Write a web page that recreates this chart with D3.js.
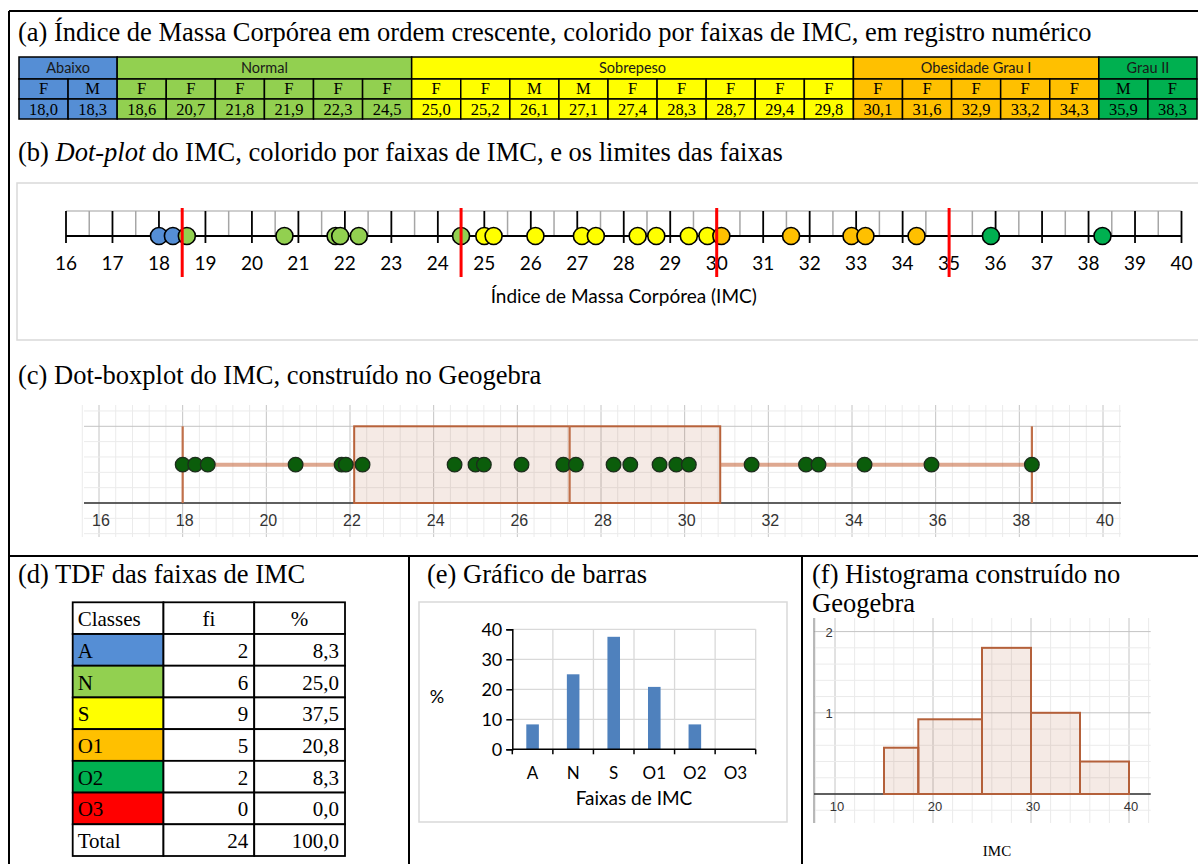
<!DOCTYPE html>
<html>
<head>
<meta charset="utf-8">
<script src="https://cdn.jsdelivr.net/npm/d3@7"></script>
<style>
  body { margin: 0; background: #fff; }
  svg { display: block; }
</style>
</head>
<body>
<div id="fig"></div>
<script>
// ---- dados ----
const IMC   = [18.0, 18.3, 18.6, 20.7, 21.8, 21.9, 22.3, 24.5, 25.0, 25.2, 26.1, 27.1, 27.4, 28.3, 28.7, 29.4, 29.8, 30.1, 31.6, 32.9, 33.2, 34.3, 35.9, 38.3];
const SEXO  = ["F","M","F","F","F","F","F","F","F","F","M","M","F","F","F","F","F","F","F","F","F","F","M","F"];
const FAIXA = ["A","A","N","N","N","N","N","N","S","S","S","S","S","S","S","S","S","O1","O1","O1","O1","O1","O2","O2"];
const FAIXA_COD   = ["A","N","S","O1","O2"];
const FAIXA_NOMES = ["Abaixo","Normal","Sobrepeso","Obesidade Grau I","Grau II"];
const CLASSES = ["A","N","S","O1","O2","O3"];
const FI      = [2, 6, 9, 5, 2, 0];
const PCT     = [8.3, 25.0, 37.5, 20.8, 8.3, 0.0];
const TOTAL   = ["Total", 24, 100.0];
const LIMITES = [18.5, 24.5, 30, 35];
const BOX     = [18.0, 22.1, 27.25, 30.85, 38.3];   // min, Q1, mediana, Q3, max
const HIST_LIM  = [15, 18.5, 25, 30, 35, 40];
const HIST_DENS = [0.57, 0.92, 1.8, 1.0, 0.4];
const COR = { A: "#558ED5", N: "#92D050", S: "#FFFF00", O1: "#FFC000", O2: "#00B050", O3: "#FF0000" };

const SERIF = "'Liberation Serif', 'Times New Roman', serif";
const CALI  = "Lato, 'Open Sans', sans-serif";
const GGB   = "'Liberation Sans', Arial, sans-serif";
const virg = v => d3.format(".1f")(v).replace(".", ",");

const svg = d3.select("#fig").append("svg").attr("width", 1198).attr("height", 864);
svg.append("rect").attr("width", 1198).attr("height", 864).attr("fill", "#fff");

function titulo(x, y, parts) {
  const t = svg.append("text").attr("x", x).attr("y", y)
    .style("font-family", SERIF).style("font-size", "26.5px").attr("fill", "#000");
  parts.forEach(p => t.append("tspan").text(p[0]).style("font-style", p[1] ? "italic" : "normal"));
}

// ---- moldura ----
const frame = svg.append("g").attr("stroke", "#000").attr("stroke-width", 2);
frame.append("line").attr("x1", 9).attr("x2", 1198).attr("y1", 11).attr("y2", 11);
frame.append("line").attr("x1", 9).attr("x2", 9).attr("y1", 11).attr("y2", 864);
frame.append("line").attr("x1", 9).attr("x2", 1198).attr("y1", 556).attr("y2", 556);
frame.append("line").attr("x1", 409).attr("x2", 409).attr("y1", 556).attr("y2", 864);
frame.append("line").attr("x1", 802).attr("x2", 802).attr("y1", 556).attr("y2", 864);

// ================= (a) tabela =================
titulo(18, 41, [["(a) Índice de Massa Corpórea em ordem crescente, colorido por faixas de IMC, em registro numérico"]]);
const xa = d3.scaleBand().domain(d3.range(IMC.length)).range([19, 1197]);
const ra = [57, 79, 99, 119];
const ga = svg.append("g");
FAIXA_COD.forEach((c, k) => {
  const i0 = FAIXA.indexOf(c), i1 = FAIXA.lastIndexOf(c);
  ga.append("rect").attr("x", xa(i0)).attr("y", ra[0])
    .attr("width", xa(i1) + xa.bandwidth() - xa(i0)).attr("height", ra[1] - ra[0])
    .attr("fill", COR[c]).attr("stroke", "#000").attr("stroke-width", 1.5);
  ga.append("text").attr("x", (xa(i0) + xa(i1) + xa.bandwidth()) / 2).attr("y", ra[0] + 16)
    .attr("text-anchor", "middle").style("font-family", CALI).style("font-size", "14.5px")
    .attr("fill", "#1a1a1a").text(FAIXA_NOMES[k]);
});
IMC.forEach((v, i) => {
  [1, 2].forEach(r => {
    ga.append("rect").attr("x", xa(i)).attr("y", ra[r]).attr("width", xa.bandwidth())
      .attr("height", ra[r + 1] - ra[r]).attr("fill", COR[FAIXA[i]])
      .attr("stroke", "#000").attr("stroke-width", 1.5);
  });
  ga.append("text").attr("x", xa(i) + xa.bandwidth() / 2).attr("y", ra[1] + 15)
    .attr("text-anchor", "middle").style("font-family", SERIF).style("font-size", "16.5px").text(SEXO[i]);
  ga.append("text").attr("x", xa(i) + xa.bandwidth() / 2).attr("y", ra[2] + 15.5)
    .attr("text-anchor", "middle").style("font-family", SERIF).style("font-size", "16.5px").text(virg(v));
});

// ================= (b) dot-plot =================
titulo(18, 161, [["(b) "], ["Dot-plot", true], [" do IMC, colorido por faixas de IMC, e os limites das faixas"]]);
svg.append("rect").attr("x", 17).attr("y", 183).attr("width", 1200).attr("height", 157)
  .attr("fill", "none").attr("stroke", "#d9d9d9").attr("stroke-width", 1.5);
const xb = d3.scaleLinear().domain([16, 40]).range([66, 1181.5]);
const yb = 236, topB = 211;
const gb = svg.append("g");
gb.append("line").attr("x1", xb(16)).attr("x2", xb(40)).attr("y1", topB).attr("y2", topB)
  .attr("stroke", "#bfbfbf").attr("stroke-width", 1.5);
d3.range(32, 81).forEach(k => {
  const v = k / 2, inteiro = k % 2 === 0;
  gb.append("line").attr("x1", xb(v)).attr("x2", xb(v)).attr("y1", topB)
    .attr("y2", inteiro ? yb + 7 : yb)
    .attr("stroke", inteiro ? "#000" : "#a6a6a6").attr("stroke-width", inteiro ? 1.8 : 1.5);
});
gb.append("line").attr("x1", xb(16)).attr("x2", xb(40)).attr("y1", yb).attr("y2", yb)
  .attr("stroke", "#000").attr("stroke-width", 2);
gb.selectAll(".tb").data(d3.range(16, 41)).enter().append("text")
  .attr("x", d => xb(d)).attr("y", 270).attr("text-anchor", "middle")
  .style("font-family", CALI).style("font-size", "19px").text(d => d);
gb.selectAll(".dot").data(IMC).enter().append("circle")
  .attr("cx", d => xb(d)).attr("cy", yb).attr("r", 8.5)
  .attr("fill", (d, i) => COR[FAIXA[i]]).attr("stroke", "#000").attr("stroke-width", 1.6);
gb.selectAll(".lim").data(LIMITES).enter().append("line")
  .attr("x1", d => xb(d)).attr("x2", d => xb(d)).attr("y1", 208).attr("y2", 277)
  .attr("stroke", "#ff0000").attr("stroke-width", 3);
gb.append("text").attr("x", (xb(16) + xb(40)) / 2).attr("y", 303).attr("text-anchor", "middle")
  .style("font-family", CALI).style("font-size", "19px").text("Índice de Massa Corpórea (IMC)");

// ================= (c) dot-boxplot Geogebra =================
titulo(18, 384, [["(c) Dot-boxplot do IMC, construído no Geogebra"]]);
const xc = d3.scaleLinear().domain([16, 40]).range([99, 1103]);
const yc = d3.scaleLinear().domain([0, 1]).range([503, 426.3]);
const gc = svg.append("g");
d3.range(39, 102).forEach(k => {
  const maj = k % 5 === 0;
  gc.append("line").attr("x1", xc(k * 0.4)).attr("x2", xc(k * 0.4)).attr("y1", 405).attr("y2", 537)
    .attr("stroke", maj ? "#c4c4c4" : "#ebebeb").attr("stroke-width", 1);
});
d3.range(-2, 7).forEach(k => {
  const maj = k % 5 === 0;
  gc.append("line").attr("x1", 84).attr("x2", 1121).attr("y1", yc(k * 0.2)).attr("y2", yc(k * 0.2))
    .attr("stroke", maj ? "#c4c4c4" : "#ebebeb").attr("stroke-width", 1);
});
gc.append("line").attr("x1", 84).attr("x2", 1121).attr("y1", yc(0)).attr("y2", yc(0))
  .attr("stroke", "#333").attr("stroke-width", 1.5);
gc.selectAll(".tc").data(d3.range(16, 41, 2)).enter().append("text")
  .attr("x", d => xc(d) + 2).attr("y", 526).attr("text-anchor", "middle")
  .style("font-family", GGB).style("font-size", "16px").attr("fill", "#333").text(d => d);
gc.append("rect").attr("x", xc(BOX[1])).attr("y", yc(1)).attr("width", xc(BOX[3]) - xc(BOX[1]))
  .attr("height", yc(0) - yc(1)).attr("fill", "rgba(153,51,0,0.1)")
  .attr("stroke", "#b8623a").attr("stroke-width", 2);
[[BOX[0], BOX[1]], [BOX[3], BOX[4]]].forEach(s => {
  gc.append("line").attr("x1", xc(s[0])).attr("x2", xc(s[1])).attr("y1", yc(0.5)).attr("y2", yc(0.5))
    .attr("stroke", "rgba(200,110,70,0.6)").attr("stroke-width", 4);
});
[BOX[0], BOX[2], BOX[4]].forEach(v => {
  gc.append("line").attr("x1", xc(v)).attr("x2", xc(v)).attr("y1", yc(1)).attr("y2", yc(0))
    .attr("stroke", "#c0704a").attr("stroke-width", 2.2);
});
gc.selectAll(".dc").data(IMC).enter().append("circle")
  .attr("cx", d => xc(d)).attr("cy", yc(0.5)).attr("r", 7.3)
  .attr("fill", "#0b5d0b").attr("stroke", "#1c2e1c").attr("stroke-width", 1.3);

// ================= (d) TDF =================
titulo(18, 583, [["(d) TDF das faixas de IMC"]]);
const xd = d3.scaleBand().domain(["c", "fi", "p"]).range([72.7, 345]);
const linhasD = [["Classes", "fi", "%"]]
  .concat(CLASSES.map((c, i) => [c, FI[i], virg(PCT[i])]))
  .concat([[TOTAL[0], TOTAL[1], virg(TOTAL[2])]]);
const yd = d3.scaleBand().domain(d3.range(linhasD.length)).range([602.3, 856]);
const gd = svg.append("g");
linhasD.forEach((row, r) => {
  ["c", "fi", "p"].forEach((col, j) => {
    const cls = r >= 1 && r <= CLASSES.length && j === 0 ? COR[row[0]] : "#fff";
    gd.append("rect").attr("x", xd(col)).attr("y", yd(r)).attr("width", xd.bandwidth())
      .attr("height", yd.bandwidth()).attr("fill", cls).attr("stroke", "#000").attr("stroke-width", 1.8);
    let x, anchor;
    if (j === 0) { x = xd(col) + 5; anchor = "start"; }
    else if (r === 0) { x = xd(col) + xd.bandwidth() / 2; anchor = "middle"; }
    else { x = xd(col) + xd.bandwidth() - 6; anchor = "end"; }
    gd.append("text").attr("x", x).attr("y", yd(r) + yd.bandwidth() / 2 + 8)
      .attr("text-anchor", anchor).style("font-family", SERIF).style("font-size", "21px").text(row[j]);
  });
});

// ================= (e) barras =================
titulo(427, 583, [["(e) Gráfico de barras"]]);
svg.append("rect").attr("x", 419).attr("y", 602).attr("width", 368).attr("height", 220)
  .attr("fill", "none").attr("stroke", "#d9d9d9").attr("stroke-width", 1.5);
const xe = d3.scaleBand().domain(CLASSES).range([512.3, 755.7]);
const ye = d3.scaleLinear().domain([0, 40]).range([749.3, 629.3]);
const ge = svg.append("g");
ye.ticks(4).filter(d => d > 0).forEach(t => {
  ge.append("line").attr("x1", xe.range()[0]).attr("x2", xe.range()[1]).attr("y1", ye(t)).attr("y2", ye(t))
    .attr("stroke", "#d9d9d9").attr("stroke-width", 1.3);
});
CLASSES.forEach(c => {
  const xr = xe(c) + xe.bandwidth();
  ge.append("line").attr("x1", xr).attr("x2", xr).attr("y1", ye(40)).attr("y2", ye(0))
    .attr("stroke", "#d9d9d9").attr("stroke-width", 1.3);
});
ge.selectAll(".bar").data(PCT).enter().append("rect")
  .attr("x", (d, i) => xe(CLASSES[i]) + xe.bandwidth() * 0.345).attr("width", xe.bandwidth() * 0.31)
  .attr("y", d => ye(d)).attr("height", d => ye(0) - ye(d)).attr("fill", "#4f81bd");
const axY = ge.append("g").attr("transform", "translate(512.3,0)")
  .call(d3.axisLeft(ye).ticks(4).tickSize(6).tickPadding(4));
axY.select(".domain").attr("stroke-width", 1.5);
axY.selectAll("line").attr("stroke-width", 1.5);
axY.selectAll("text").style("font-family", CALI).style("font-size", "18px").attr("fill", "#000");
const axX = ge.append("g").attr("transform", "translate(0,749.3)");
axX.append("line").attr("x1", xe.range()[0]).attr("x2", xe.range()[1]).attr("stroke", "#000").attr("stroke-width", 1.5);
[xe.range()[0]].concat(CLASSES.map(c => xe(c) + xe.bandwidth())).forEach(x => {
  axX.append("line").attr("x1", x).attr("x2", x).attr("y1", 0).attr("y2", 5).attr("stroke", "#000").attr("stroke-width", 1.5);
});
CLASSES.forEach(c => {
  axX.append("text").attr("x", xe(c) + xe.bandwidth() / 2).attr("y", 30).attr("text-anchor", "middle")
    .style("font-family", CALI).style("font-size", "17px").text(c);
});
ge.append("text").attr("x", (xe.range()[0] + xe.range()[1]) / 2).attr("y", 805).attr("text-anchor", "middle")
  .style("font-family", CALI).style("font-size", "19px").text("Faixas de IMC");
ge.append("text").attr("x", 437).attr("y", 703).attr("text-anchor", "middle")
  .style("font-family", CALI).style("font-size", "18px").text("%");

// ================= (f) histograma Geogebra =================
titulo(812, 583, [["(f) Histograma construído no"]]);
titulo(812, 612, [["Geogebra"]]);
const xf = d3.scaleLinear().domain([10, 40]).range([835, 1129]);
const yf = d3.scaleLinear().domain([0, 1]).range([794, 712.8]);
const gf = svg.append("g");
d3.range(4, 22).forEach(k => {
  const maj = k % 5 === 0;
  gf.append("line").attr("x1", xf(k * 2)).attr("x2", xf(k * 2)).attr("y1", 618).attr("y2", 823)
    .attr("stroke", maj ? "#c4c4c4" : "#ebebeb").attr("stroke-width", 1);
});
d3.range(-1, 11).forEach(k => {
  const maj = k % 5 === 0;
  gf.append("line").attr("x1", 814).attr("x2", 1150.7).attr("y1", yf(k * 0.2)).attr("y2", yf(k * 0.2))
    .attr("stroke", maj ? "#c4c4c4" : "#ebebeb").attr("stroke-width", 1);
});
gf.append("line").attr("x1", 814).attr("x2", 814).attr("y1", 618).attr("y2", 823)
  .attr("stroke", "#8a8a8a").attr("stroke-width", 1.2);
gf.append("line").attr("x1", 814).attr("x2", 1150.7).attr("y1", yf(0)).attr("y2", yf(0))
  .attr("stroke", "#333").attr("stroke-width", 1.5);
gf.selectAll(".hb").data(HIST_DENS).enter().append("rect")
  .attr("x", (d, i) => xf(HIST_LIM[i])).attr("width", (d, i) => xf(HIST_LIM[i + 1]) - xf(HIST_LIM[i]))
  .attr("y", d => yf(d)).attr("height", d => yf(0) - yf(d))
  .attr("fill", "rgba(153,51,0,0.1)").attr("stroke", "#b4603a").attr("stroke-width", 2);
gf.selectAll(".tf").data([10, 20, 30, 40]).enter().append("text")
  .attr("x", d => xf(d) + 2).attr("y", 811).attr("text-anchor", "middle")
  .style("font-family", GGB).style("font-size", "13px").attr("fill", "#333").text(d => d);
gf.selectAll(".tfy").data([1, 2]).enter().append("text")
  .attr("x", 829).attr("y", d => yf(d) + 5).attr("text-anchor", "middle")
  .style("font-family", GGB).style("font-size", "13px").attr("fill", "#333").text(d => d);
gf.append("text").attr("x", 997).attr("y", 856).attr("text-anchor", "middle")
  .style("font-family", SERIF).style("font-size", "15px").text("IMC");
</script>
</body>
</html>
